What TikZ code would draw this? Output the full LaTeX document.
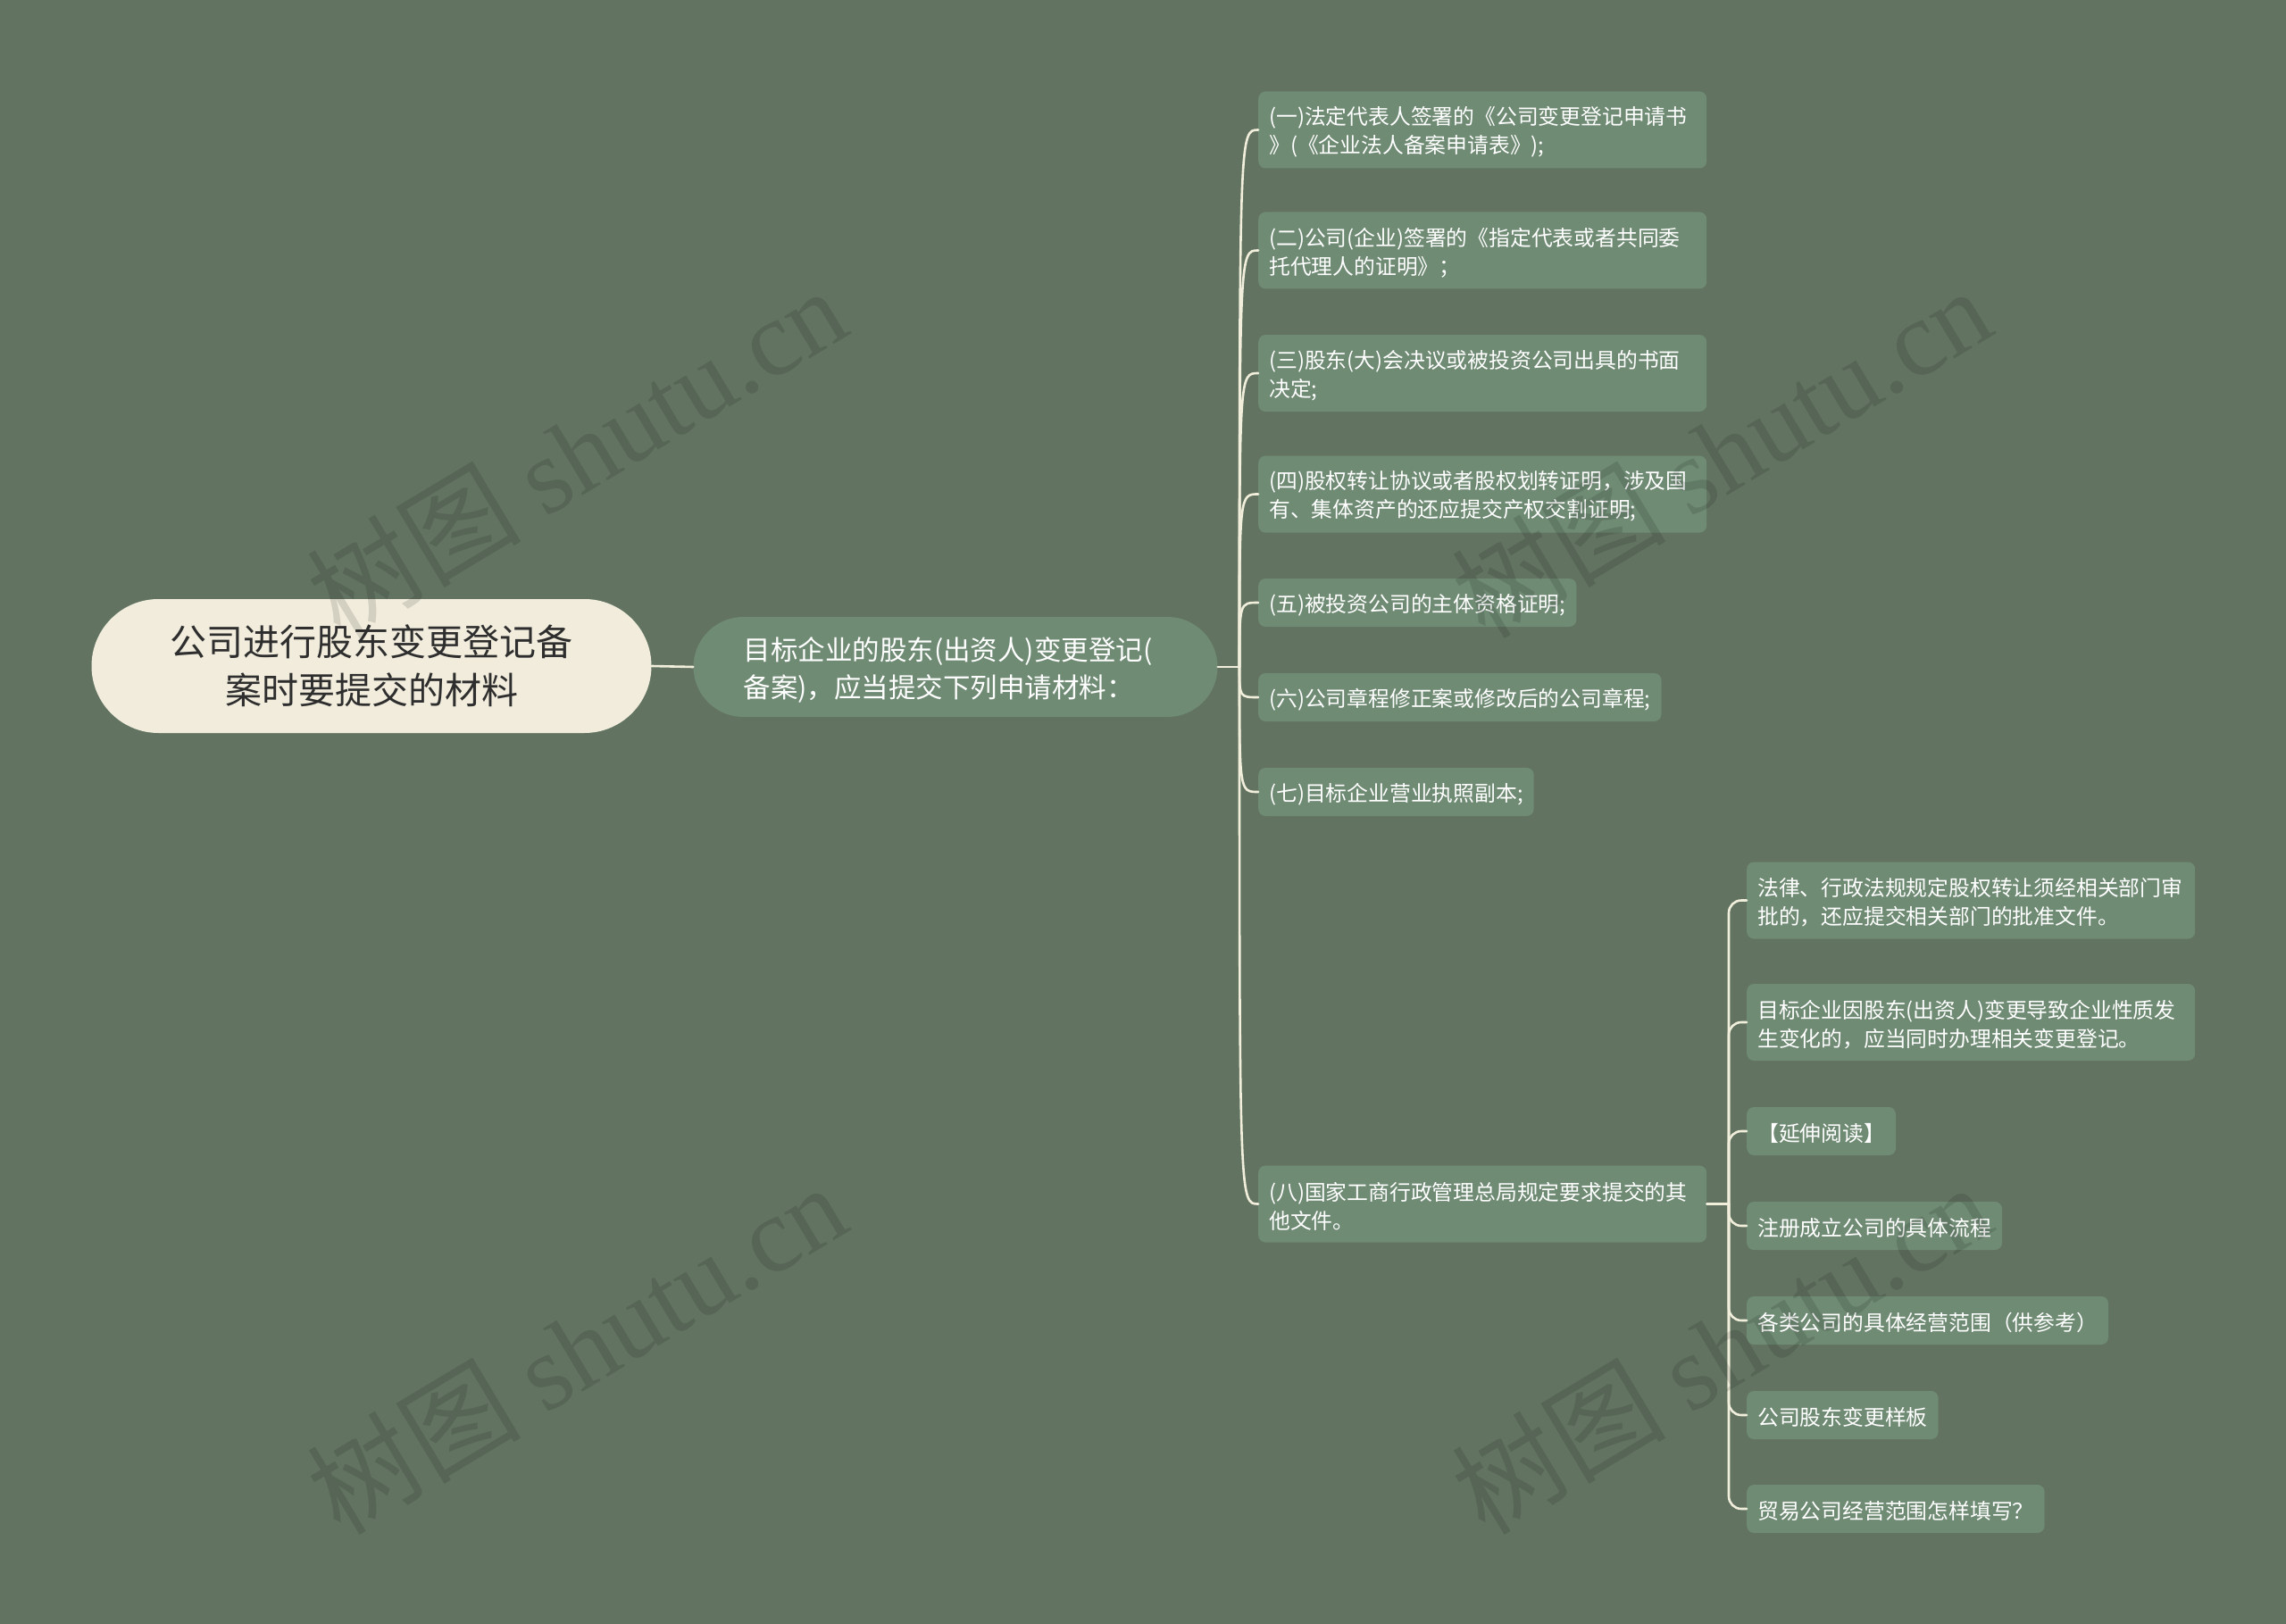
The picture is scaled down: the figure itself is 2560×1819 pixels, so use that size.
\documentclass[tikz,border=0pt]{standalone}
\usepackage{fontspec}
\setmainfont{Noto Sans CJK SC}
\newfontfamily\wmserif{Liberation Serif}
\definecolor{bgc}{HTML}{627461}
\definecolor{nodec}{HTML}{6F8B74}
\definecolor{rootc}{HTML}{F1ECDC}
\definecolor{linec}{HTML}{F2EEDC}
\definecolor{roottext}{HTML}{2E2E2E}
\tikzset{
  rootbox/.style={fill=rootc, text=roottext, rounded corners=75, minimum width=627, minimum height=150,
    align=center, inner sep=0, font=\fontsize{41}{54}\selectfont},
  midbox/.style={fill=nodec, text=white, rounded corners=56, minimum width=587, minimum height=112,
    text width=475, align=left, inner sep=0, font=\fontsize{30.5}{42}\selectfont,
    execute at begin node={\rule{0pt}{32pt}}},
  leaf/.style={fill=nodec, text=white, rounded corners=8, anchor=west, align=left,
    inner xsep=12, inner ysep=12, minimum height=54, font=\fontsize{23.8}{32}\selectfont,
    execute at begin node={\rule{0pt}{25pt}}},
  wideleaf/.style={leaf, text width=478, minimum height=86},
  conn/.style={draw=linec, line width=2.6, line cap=round},
  wmark/.style={text=black, opacity=0.12, rotate=31, font=\fontsize{120}{120}\selectfont, inner sep=0}
}
\begin{document}
\begin{tikzpicture}[x=1pt, y=-1pt]
\fill[bgc] (0,0) rectangle (2560,1819);
\useasboundingbox (0,0) rectangle (2560,1819);

% nodes
\node[rootbox] (root) at (416,746) {公司进行股东变更登记备\\案时要提交的材料};
\node[midbox] (mid) at (1070,747) {目标企业的股东(出资人)变更登记(\\备案)，应当提交下列申请材料：};

\node[wideleaf] (c1) at (1409,145.5) {(一)法定代表人签署的《公司变更登记申请书\\》(《企业法人备案申请表》);};
\node[wideleaf] (c2) at (1409,280.5) {(二)公司(企业)签署的《指定代表或者共同委\\托代理人的证明》；};
\node[wideleaf] (c3) at (1409,418) {(三)股东(大)会决议或被投资公司出具的书面\\决定;};
\node[wideleaf] (c4) at (1409,553.5) {(四)股权转让协议或者股权划转证明，涉及国\\有、集体资产的还应提交产权交割证明;};
\node[leaf] (c5) at (1409,675) {(五)被投资公司的主体资格证明;};
\node[leaf] (c6) at (1409,781) {(六)公司章程修正案或修改后的公司章程;};
\node[leaf] (c7) at (1409,887) {(七)目标企业营业执照副本;};
\node[wideleaf] (c8) at (1409,1348.5) {(八)国家工商行政管理总局规定要求提交的其\\他文件。};

\node[wideleaf] (g1) at (1956,1008.5) {法律、行政法规规定股权转让须经相关部门审\\批的，还应提交相关部门的批准文件。};
\node[wideleaf] (g2) at (1956,1145) {目标企业因股东(出资人)变更导致企业性质发\\生变化的，应当同时办理相关变更登记。};
\node[leaf] (g3) at (1956,1267) {【延伸阅读】};
\node[leaf] (g4) at (1956,1373) {注册成立公司的具体流程};
\node[leaf] (g5) at (1956,1479) {各类公司的具体经营范围（供参考）};
\node[leaf] (g6) at (1956,1585) {公司股东变更样板};
\node[leaf] (g7) at (1956,1690) {贸易公司经营范围怎样填写？};

% connectors
\coordinate (hub1) at (1388,747);
\coordinate (hub2) at (1936,1348.5);
\draw[conn] (root.east) -- (mid.west);
\draw[conn] (mid.east) -- (hub1);
\foreach \c in {c1,c2,c3,c4,c5,c6,c7,c8}{
  \draw[conn] (hub1) .. controls (hub1 |- \c.west) and (hub1 |- \c.west) .. (\c.west);
}
\draw[conn] (c8.east) -- (hub2);
\foreach \g in {g1,g2,g3,g4,g5,g6,g7}{
  \draw[conn, rounded corners=14] (hub2) |- (\g.west);
}

% watermarks
\node[wmark] (w1) at (645,506) {树图 {\wmserif shutu.cn}};
\node[wmark] (w2) at (1927,506) {树图 {\wmserif shutu.cn}};
\node[wmark] (w3) at (645,1510) {树图 {\wmserif shutu.cn}};
\node[wmark] (w4) at (1927,1510) {树图 {\wmserif shutu.cn}};
\end{tikzpicture}
\end{document}
